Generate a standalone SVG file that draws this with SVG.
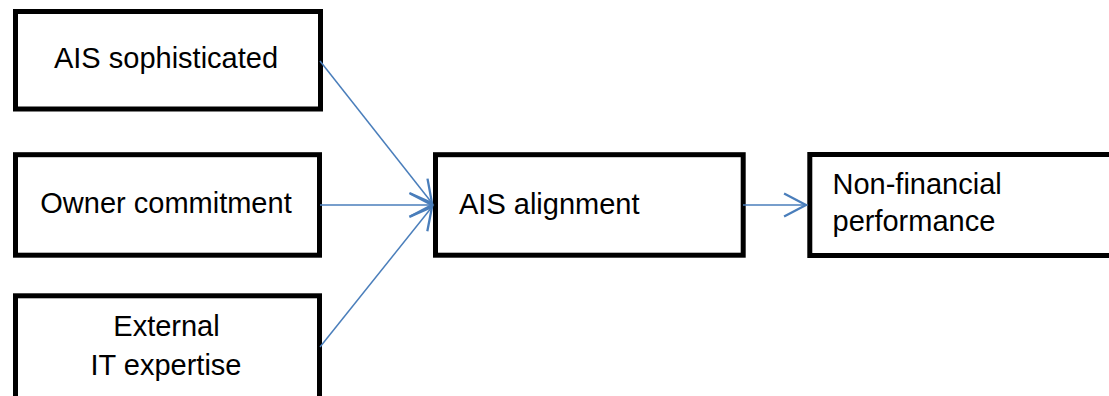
<svg xmlns="http://www.w3.org/2000/svg" width="1109" height="396" viewBox="0 0 1109 396">
<style>
.box{fill:#fff;stroke:#000;stroke-width:5}
.t{font-family:"Liberation Sans",Arial,sans-serif;font-size:29px;fill:#000}
.c{text-anchor:middle}
.ln{stroke:#4a7ebb;stroke-width:1.5;fill:none}
</style>
<defs>
<marker id="ah" markerUnits="userSpaceOnUse" markerWidth="30" markerHeight="30" viewBox="-22 -13 25 26" refX="0" refY="0" orient="auto">
<path d="M-19,-10 L0,0 L-19,10" fill="none" stroke="#4a7ebb" stroke-width="2"/>
</marker>
</defs>
<rect width="1109" height="396" fill="#fff"/>
<g id="n1">
<rect class="box" x="15.5" y="11.5" width="305" height="97.5"/>
<text class="t c" x="166" y="68">AIS sophisticated</text>
</g>
<g id="n2">
<rect class="box" x="15.5" y="154.7" width="304" height="100.5"/>
<text class="t c" x="166" y="213">Owner commitment</text>
</g>
<g id="n3">
<rect class="box" x="15.5" y="295.8" width="304" height="103"/>
<text class="t c" x="166.5" y="336">External</text>
<text class="t c" x="166" y="375">IT expertise</text>
</g>
<g id="n4">
<rect class="box" x="435.5" y="154.7" width="307.7" height="100.5"/>
<text class="t" x="459" y="214">AIS alignment</text>
</g>
<g id="n5">
<rect class="box" x="809.8" y="154.5" width="320" height="101"/>
<text class="t" x="832.5" y="194">Non-financial</text>
<text class="t" x="832.5" y="231">performance</text>
</g>
<g id="connectors">
<line class="ln" x1="320" y1="61" x2="432" y2="203" marker-end="url(#ah)"/>
<line class="ln" x1="320" y1="205" x2="432" y2="205" marker-end="url(#ah)"/>
<line class="ln" x1="320" y1="347" x2="432" y2="207" marker-end="url(#ah)"/>
<line class="ln" x1="743" y1="205" x2="806" y2="205" marker-end="url(#ah)"/>
</g>
</svg>
